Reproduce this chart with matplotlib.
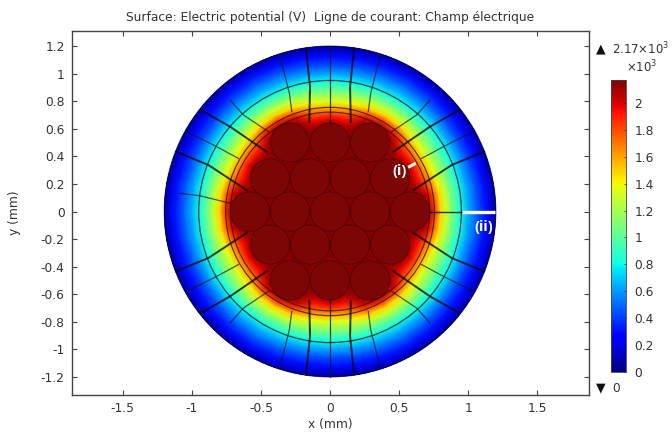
import numpy as np
import matplotlib
matplotlib.use('agg')
import matplotlib.pyplot as plt
from matplotlib.patches import Circle
from matplotlib.cm import ScalarMappable
from matplotlib.colors import Normalize

# radial samples (mm), potential in kV
radii = [0.0, 0.60, 0.64, 0.68, 0.72, 0.76, 0.80, 0.84, 0.88, 0.94, 1.00, 1.06, 1.12, 1.17, 1.20, 1.22]
v_0 = [2.17, 2.17, 2.17, 2.17, 2.08, 1.85, 1.50, 1.30, 1.10, 0.84, 0.65, 0.48, 0.33, 0.17, 0.03, 0.0]
v_10 = [2.17, 2.17, 2.17, 2.12, 1.98, 1.75, 1.47, 1.28, 1.09, 0.84, 0.64, 0.47, 0.32, 0.17, 0.03, 0.0]
v_20 = [2.17, 2.12, 2.04, 1.92, 1.76, 1.57, 1.38, 1.22, 1.06, 0.83, 0.63, 0.45, 0.31, 0.16, 0.03, 0.0]
v_30 = [2.17, 2.17, 2.12, 1.95, 1.75, 1.52, 1.33, 1.18, 1.04, 0.82, 0.62, 0.44, 0.30, 0.16, 0.03, 0.0]
angles = list(range(0, 361, 10))

wire_x = [-0.29, 0, 0.29, -0.435, -0.145, 0.145, 0.435, -0.58, -0.29, 0, 0.29, 0.58,
          -0.435, -0.145, 0.145, 0.435, -0.29, 0, 0.29]
wire_y = [0.5, 0.5, 0.5, 0.24, 0.24, 0.24, 0.24, 0, 0, 0, 0, 0,
          -0.24, -0.24, -0.24, -0.24, -0.5, -0.5, -0.5]
wire_r = 0.142
shells = [0.72, 0.755, 0.95]

# streamlines in the upper right quadrant, the others are the mirror of these
thick_x = [[0.15, 0.145, 0.174], [0.458, 0.723, 0.935], [0.603, 0.880, 1.114]]
thick_y = [[0.65, 0.904, 1.183], [0.433, 0.615, 0.736], [0.155, 0.337, 0.434]]
thin_x = [[0.277, 0.294, 0.361], [0.446, 0.627, 0.723], [0.663, 0.820, 1.036]]
thin_y = [[0.724, 0.857, 1.122], [0.579, 0.700, 0.808], [0.385, 0.470, 0.579]]
left_x = [-0.723, -0.94, -1.085]
left_y = [0.06, 0.114, 0.132]

xticks = [-1.5, -1, -0.5, 0, 0.5, 1, 1.5]
yticks = [-1.2, -1, -0.8, -0.6, -0.4, -0.2, 0, 0.2, 0.4, 0.6, 0.8, 1, 1.2]
cticks = [0, 0.2, 0.4, 0.6, 0.8, 1, 1.2, 1.4, 1.6, 1.8, 2]
text_col = '#333333'
frame_col = '#444444'
W, H = 672.0, 432.0


def box(left, top, right, bottom):
	return [left / W, 1 - bottom / H, (right - left) / W, (bottom - top) / H]


def label(v):
	return '{:g}'.format(v)


fig = plt.figure(figsize=(6.72, 4.32), dpi=100)
ax = fig.add_axes(box(71.5, 30.5, 589, 395))

sector = [v_0, v_10, v_20, v_30, v_20, v_10]
vals = np.array([sector[i % 6] for i in range(len(angles))])
rr, aa = np.meshgrid(radii, np.radians(angles))
norm = Normalize(0, 2.17)
mesh = ax.pcolormesh(rr * np.cos(aa), rr * np.sin(aa), vals, shading='gouraud', cmap='jet', norm=norm, zorder=1)
rim = Circle((0, 0), 1.2, transform=ax.transData, fc='none', ec='none')
ax.add_patch(rim)
mesh.set_clip_path(rim)

for x, y in zip(wire_x, wire_y):
	ax.add_patch(Circle((x, y), wire_r, fc='#7c0606', ec='#4a0202', lw=0.5, zorder=2))

ax.add_patch(Circle((0, 0), shells[0], fc='none', ec='#2a1800', lw=0.85, alpha=0.8, zorder=3))
ax.add_patch(Circle((0, 0), shells[1], fc='none', ec='#2a1800', lw=0.85, alpha=0.8, zorder=3))
ax.add_patch(Circle((0, 0), shells[2], fc='none', ec='#0a3030', lw=0.9, alpha=0.85, zorder=3))
ax.add_patch(Circle((0, 0), 1.2, fc='none', ec='#000050', lw=0.6, alpha=0.7, zorder=3))

for sx in [1, -1]:
	for sy in [1, -1]:
		for xs, ys in zip(thick_x, thick_y):
			ax.plot(np.array(xs) * sx, np.array(ys) * sy, color='#0a0a14', lw=1.4, alpha=0.8, zorder=4)
		for xs, ys in zip(thin_x, thin_y):
			ax.plot(np.array(xs) * sx, np.array(ys) * sy, color='#101820', lw=0.9, alpha=0.7, zorder=4)
ax.plot(left_x, left_y, color='#101820', lw=0.9, alpha=0.7, zorder=4)
ax.plot([0, 0], [0.64, 1.2], color='#101820', lw=0.9, alpha=0.8, zorder=4)
ax.plot([0, 0], [-0.64, -1.2], color='#101820', lw=0.9, alpha=0.8, zorder=4)
ax.plot([0.72, 0.96], [0, 0], color='#101010', lw=1.0, alpha=0.85, zorder=4)

# the two markers drawn over the plot
ax.plot([0.955, 1.195], [0, 0], color='white', lw=2.4, solid_capstyle='butt', zorder=5)
ax.plot([0.565, 0.62], [0.32, 0.35], color='white', lw=2.2, solid_capstyle='butt', zorder=5)
ax.text(0.505, 0.29, '(i)', color='white', fontsize=10.5, fontweight='bold', family='Open Sans', ha='center', va='center', zorder=6)
ax.text(1.11, -0.11, '(ii)', color='white', fontsize=10.5, fontweight='bold', family='Open Sans', ha='center', va='center', zorder=6)

ax.set_xlim(-1.87, 1.873)
ax.set_ylim(-1.33, 1.312)
ax.set_xticks(xticks)
ax.set_yticks(yticks)
ax.set_xticklabels([label(v) for v in xticks])
ax.set_yticklabels([label(v) for v in yticks])
ax.tick_params(direction='in', top=True, right=True, length=3.5, width=0.8, color=frame_col, labelcolor=text_col, labelsize=8.8, pad=5)
for s in ax.spines.values():
	s.set_color(frame_col)
	s.set_linewidth(1.0)
ax.set_xlabel('x (mm)', fontsize=8.8, color=text_col, labelpad=2)
ax.set_ylabel('y (mm)', fontsize=8.8, color=text_col, labelpad=14)
ax.set_title('Surface: Electric potential (V)  Ligne de courant: Champ électrique', fontsize=8.8, color=text_col, pad=7)

cax = fig.add_axes(box(610.5, 80, 626, 372))
sm = ScalarMappable(norm=norm, cmap='jet')
cb = fig.colorbar(sm, cax=cax, ticks=cticks)
cb.ax.set_yticklabels([label(v) for v in cticks])
cb.ax.tick_params(direction='in', length=1.5, width=0.5, color='#222222', labelcolor=text_col, labelsize=8.8, pad=6)
cb.outline.set_edgecolor('#444444')
cb.outline.set_linewidth(0.6)

fig.text(601 / W, 1 - 49 / H, '▲', fontsize=9, color='#111111', ha='center', va='center')
fig.text(612 / W, 1 - 49 / H, '2.17×10$^3$', fontsize=8.4, color=text_col, ha='left', va='center')
fig.text(626 / W, 1 - 67 / H, '×10$^3$', fontsize=8.4, color=text_col, ha='left', va='center')
fig.text(601 / W, 1 - 388 / H, '▼', fontsize=9, color='#111111', ha='center', va='center')
fig.text(612 / W, 1 - 388 / H, '0', fontsize=8.8, color=text_col, ha='left', va='center')

fig.savefig('out.png', dpi=100)
